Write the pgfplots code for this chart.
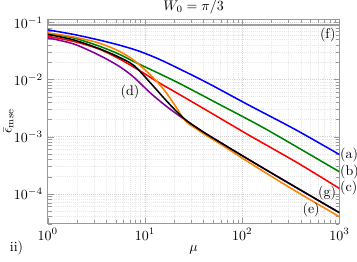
\documentclass[border=0pt]{standalone}
\usepackage{pgfplots}
\pgfplotsset{compat=1.18}
\definecolor{cblue}{rgb}{0,0,1}
\definecolor{cgreen}{rgb}{0,0.5,0}
\definecolor{cred}{rgb}{1,0,0}
\definecolor{corange}{rgb}{1,0.5,0}
\definecolor{cpurple}{rgb}{0.5,0,0.6}
\definecolor{cgray}{rgb}{0.62,0.62,0.62}
\begin{document}
\begin{tikzpicture}
\begin{axis}[
  scale only axis,
  width=208.86pt, height=146.64pt,
  xmode=log, ymode=log,
  xmin=1, xmax=1000, ymin=3e-5, ymax=0.115,
  grid=both,
  major grid style={densely dotted, gray!35},
  minor grid style={densely dotted, gray!18},
  axis line style={gray!80},
  tick style={gray!80},
  tick align=inside,
  title={$W_0=\pi/3$},
  every axis title shift=0pt,
  title style={at={(axis description cs:0.5,1)}, anchor=center, yshift=8.4pt},
  xlabel={$\mu$},
  ylabel={$\bar{\epsilon}_{\mathrm{mse}}$},
  every axis x label/.style={at={(axis description cs:0.5,-0.125)}, anchor=center},
  every axis y label/.style={at={(axis description cs:-0.135,0.5)}, rotate=90, anchor=center},
  every axis plot/.append style={line width=1.1pt, smooth, tension=0.5},
  clip=true,
]
% (f)
\addplot[cgray, line width=1.6pt] coordinates {(1,0.0887) (1000,0.0887)};
% (a)
\addplot[cblue] coordinates {
(1,0.0740) (1.835,0.0617) (3.313,0.0495) (5.314,0.0405) (8.521,0.0318)
(13.67,0.02307) (21.93,0.01575) (44.54,0.00862) (114.6,0.003633)
(345.3,0.001357) (1000,0.000487)};
% (b)
\addplot[cgreen] coordinates {
(1,0.0643) (1.835,0.0536) (3.313,0.0389) (5.314,0.0282) (7.573,0.02086)
(11.58,0.01483) (21.93,0.00879) (56.40,0.003782) (175.3,0.001357)
(1000,0.000243)};
% (c)
\addplot[cred] coordinates {
(1,0.0570) (1.835,0.0466) (3.313,0.0345) (5.314,0.02353) (8.521,0.01483)
(13.67,0.00897) (21.93,0.005651) (44.54,0.002798) (114.6,0.001088)
(373.4,0.000346) (1000,0.0001242)};
% (d)
\addplot[cpurple] coordinates {
(1,0.0536) (1.835,0.04215) (3.313,0.02709) (5.314,0.01741) (7.573,0.01119)
(11.58,0.005651) (17.31,0.00322) (25.26,0.002028) (37.76,0.001278)
(56.40,0.0008379) (145.1,0.0003194) (373.4,0.0001242) (1000,0.0000468)};
% (e)
\addplot[corange] coordinates {
(1,0.0656) (1.835,0.0558) (3.313,0.0439) (5.314,0.0318) (7.573,0.02215)
(10.79,0.01314) (15.38,0.006909) (20.42,0.003489) (25.86,0.00191)
(32.75,0.001413) (44.54,0.001004) (56.40,0.0007889) (145.1,0.0002831)
(373.4,0.0001058) (1000,0.00003985)};
% (g)
\addplot[black] coordinates {
(1,0.0617) (1.835,0.0495) (3.313,0.0352) (5.314,0.0250) (7.753,0.01741)
(11.58,0.008447) (17.31,0.003937) (25.26,0.00207) (37.76,0.001278)
(56.40,0.0008379) (145.1,0.0003194) (373.4,0.0001242) (1000,0.0000468)};
\end{axis}
\begin{axis}[
  scale only axis, width=208.86pt, height=146.64pt,
  xmode=log, ymode=log, xmin=1, xmax=1000, ymin=3e-5, ymax=0.115,
  axis lines=none, clip=false,
  every node/.append style={font=\fontsize{8}{9.5}\selectfont}]
\node[anchor=west, inner sep=0.3pt] at (axis cs:1000,0.000487) {(a)};
\node[anchor=west, inner sep=0.3pt] at (axis cs:1000,0.000243) {(b)};
\node[anchor=west, inner sep=0.3pt] at (axis cs:1000,0.0001242) {(c)};
\node at (axis cs:7.005,0.00612) {(d)};
\node at (axis cs:511,0.0000513) {(e)};
\node at (axis cs:758,0.0605) {(f)};
\node at (axis cs:746,0.0001045) {(g)};
\end{axis}
\node at (-22.4pt,-17.6pt) {ii)};
\pgfresetboundingbox
\path[use as bounding box] (-34.2pt,-26.9pt) rectangle (221.4pt,160.2pt);
\end{tikzpicture}
\end{document}
